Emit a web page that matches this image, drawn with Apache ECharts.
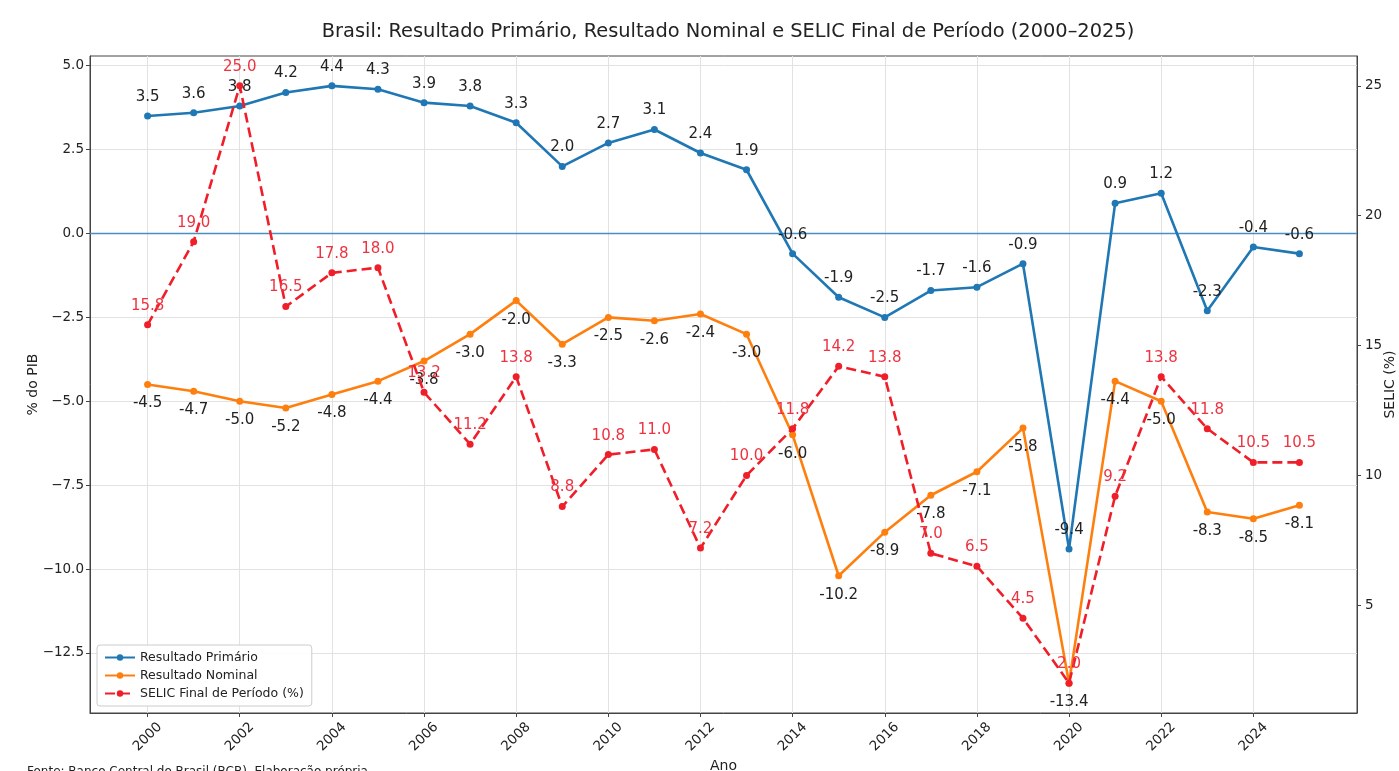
<!DOCTYPE html>
<html>
<head>
<meta charset="utf-8">
<title>Brasil: Resultado Primário, Nominal e SELIC</title>
<script src="https://cdn.jsdelivr.net/npm/echarts@6/dist/echarts.min.js"></script>
<style>
  html, body { margin: 0; padding: 0; background: #fff; }
  #chart { width: 1399px; height: 771px; }
</style>
</head>
<body>
<div id="chart"></div>
<script>
// anos 2000–2025
var anos = [2000, 2001, 2002, 2003, 2004, 2005, 2006, 2007, 2008, 2009, 2010, 2011, 2012,
            2013, 2014, 2015, 2016, 2017, 2018, 2019, 2020, 2021, 2022, 2023, 2024, 2025];
// % do PIB
var primario = [3.5, 3.6, 3.8, 4.2, 4.4, 4.3, 3.9, 3.8, 3.3, 2.0, 2.7, 3.1, 2.4,
                1.9, -0.6, -1.9, -2.5, -1.7, -1.6, -0.9, -9.4, 0.9, 1.2, -2.3, -0.4, -0.6];
var nominal = [-4.5, -4.7, -5.0, -5.2, -4.8, -4.4, -3.8, -3.0, -2.0, -3.3, -2.5, -2.6, -2.4,
               -3.0, -6.0, -10.2, -8.9, -7.8, -7.1, -5.8, -13.4, -4.4, -5.0, -8.3, -8.5, -8.1];
// SELIC final de período (%)
var selic = [15.8, 19.0, 25.0, 16.5, 17.8, 18.0, 13.2, 11.2, 13.8, 8.8, 10.8, 11.0, 7.2,
             10.0, 11.8, 14.2, 13.8, 7.0, 6.5, 4.5, 2.0, 9.2, 13.8, 11.8, 10.5, 10.5];
// ticks
var xTicks = [2000, 2002, 2004, 2006, 2008, 2010, 2012, 2014, 2016, 2018, 2020, 2022, 2024];
var yTicksPib = [-12.5, -10.0, -7.5, -5.0, -2.5, 0.0, 2.5, 5.0];
var yTicksSelic = [5, 10, 15, 20, 25];

var FONT = 'DejaVu Sans';
var myChart = echarts.init(document.getElementById('chart'));

function pares(vals) {
    return anos.map(function (a, i) { return [a, vals[i]]; });
}
function fmt(v) {
    return v.toFixed(1);
}

var option = {
    animation: false,
    backgroundColor: '#fff',
    textStyle: { fontFamily: FONT },
    title: {
        text: 'Brasil: Resultado Primário, Resultado Nominal e SELIC Final de Período (2000–2025)',
        left: 723,
        textAlign: 'center',
        top: 17,
        textStyle: { fontFamily: FONT, fontSize: 19.4, fontWeight: 'normal', color: '#222' }
    },
    legend: {
        orient: 'vertical',
        left: 97,
        top: 645,
        itemWidth: 30,
        itemHeight: 8,
        itemGap: 5,
        padding: [6, 8, 6, 7],
        backgroundColor: 'rgba(255,255,255,0.9)',
        borderColor: '#ccc',
        borderWidth: 1,
        borderRadius: 3,
        textStyle: { fontFamily: FONT, fontSize: 12.5, color: '#222' },
        data: ['Resultado Primário', 'Resultado Nominal', 'SELIC Final de Período (%)']
    },
    grid: {
        left: 90,
        right: 42,
        top: 56,
        bottom: 58,
        outerBoundsMode: 'none',
        containLabel: false,
        show: true,
        borderColor: '#444',
        borderWidth: 1
    },
    xAxis: {
        type: 'value',
        min: 1998.75,
        max: 2026.25,
        name: 'Ano',
        nameLocation: 'middle',
        nameGap: 46,
        nameMoveOverlap: false,
        nameTextStyle: { fontFamily: FONT, fontSize: 14, color: '#222' },
        axisLine: { show: true, onZero: false, lineStyle: { color: '#444' } },
        axisTick: { show: true, length: 4, customValues: xTicks, lineStyle: { color: '#444' } },
        axisLabel: {
            customValues: xTicks,
            rotate: 45,
            margin: 24,
            align: 'center',
            verticalAlign: 'middle',
            fontFamily: FONT,
            fontSize: 13.5,
            color: '#222',
            formatter: function (v) { return String(v); }
        },
        splitLine: { show: true, lineStyle: { color: '#e2e2e2', width: 1 } }
    },
    yAxis: [{
        type: 'value',
        min: -14.29,
        max: 5.29,
        name: '% do PIB',
        nameLocation: 'middle',
        nameGap: 50,
        nameMoveOverlap: false,
        nameTextStyle: { fontFamily: FONT, fontSize: 14, color: '#222' },
        axisLine: { show: true, onZero: false, lineStyle: { color: '#444' } },
        axisTick: { show: true, length: 4, customValues: yTicksPib, lineStyle: { color: '#444' } },
        axisLabel: {
            customValues: yTicksPib,
            fontFamily: FONT,
            fontSize: 13.5,
            color: '#222',
            margin: 6,
            formatter: function (v) { return fmt(v).replace('-', '\u2212'); }
        },
        splitLine: { show: true, lineStyle: { color: '#e2e2e2', width: 1 } }
    }, {
        type: 'value',
        position: 'right',
        min: 0.85,
        max: 26.15,
        name: 'SELIC (%)',
        nameLocation: 'middle',
        nameGap: 26,
        nameMoveOverlap: false,
        nameRotate: 90,
        nameTextStyle: { fontFamily: FONT, fontSize: 14, color: '#222' },
        axisLine: { show: true, onZero: false, lineStyle: { color: '#444' } },
        axisTick: { show: true, length: 4, customValues: yTicksSelic, lineStyle: { color: '#444' } },
        axisLabel: {
            customValues: yTicksSelic,
            fontFamily: FONT,
            fontSize: 13.5,
            color: '#222',
            margin: 8
        },
        splitLine: { show: false }
    }],
    series: [{
        name: 'Resultado Primário',
        type: 'line',
        yAxisIndex: 0,
        data: pares(primario),
        symbol: 'circle',
        symbolSize: 7,
        z: 3,
        itemStyle: { color: '#1f77b4' },
        lineStyle: { color: '#1f77b4', width: 2.6 },
        label: {
            show: true,
            position: 'top',
            distance: 8,
            fontFamily: FONT,
            fontSize: 15,
            color: '#222',
            formatter: function (p) { return fmt(p.value[1]); }
        },
        markLine: {
            silent: true,
            symbol: 'none',
            z: 2,
            label: { show: false },
            emphasis: { disabled: true },
            lineStyle: { color: '#4a8fc4', width: 1.4, type: 'solid', opacity: 1 },
            data: [{ yAxis: 0 }]
        }
    }, {
        name: 'Resultado Nominal',
        type: 'line',
        yAxisIndex: 0,
        data: pares(nominal),
        symbol: 'circle',
        symbolSize: 7,
        z: 3,
        itemStyle: { color: '#ff7f0e' },
        lineStyle: { color: '#ff7f0e', width: 2.6 },
        label: {
            show: true,
            position: 'bottom',
            distance: 8,
            fontFamily: FONT,
            fontSize: 15,
            color: '#222',
            formatter: function (p) { return fmt(p.value[1]); }
        }
    }, {
        name: 'SELIC Final de Período (%)',
        type: 'line',
        yAxisIndex: 1,
        data: pares(selic),
        symbol: 'circle',
        symbolSize: 7,
        z: 4,
        itemStyle: { color: '#f01e28' },
        lineStyle: { color: '#f01e28', width: 2.6, type: [10, 5] },
        label: {
            show: true,
            position: 'top',
            distance: 8,
            fontFamily: FONT,
            fontSize: 15,
            color: '#ee3340',
            formatter: function (p) { return fmt(p.value[1]); }
        }
    }],
    graphic: [{
        type: 'text',
        left: 27,
        top: 766,
        style: {
            text: 'Fonte: Banco Central do Brasil (BCB). Elaboração própria.',
            font: '12px "DejaVu Sans"',
            fill: '#222'
        }
    }]
};

myChart.setOption(option);
window.addEventListener('resize', function () {
    myChart.resize();
});
</script>
</body>
</html>
